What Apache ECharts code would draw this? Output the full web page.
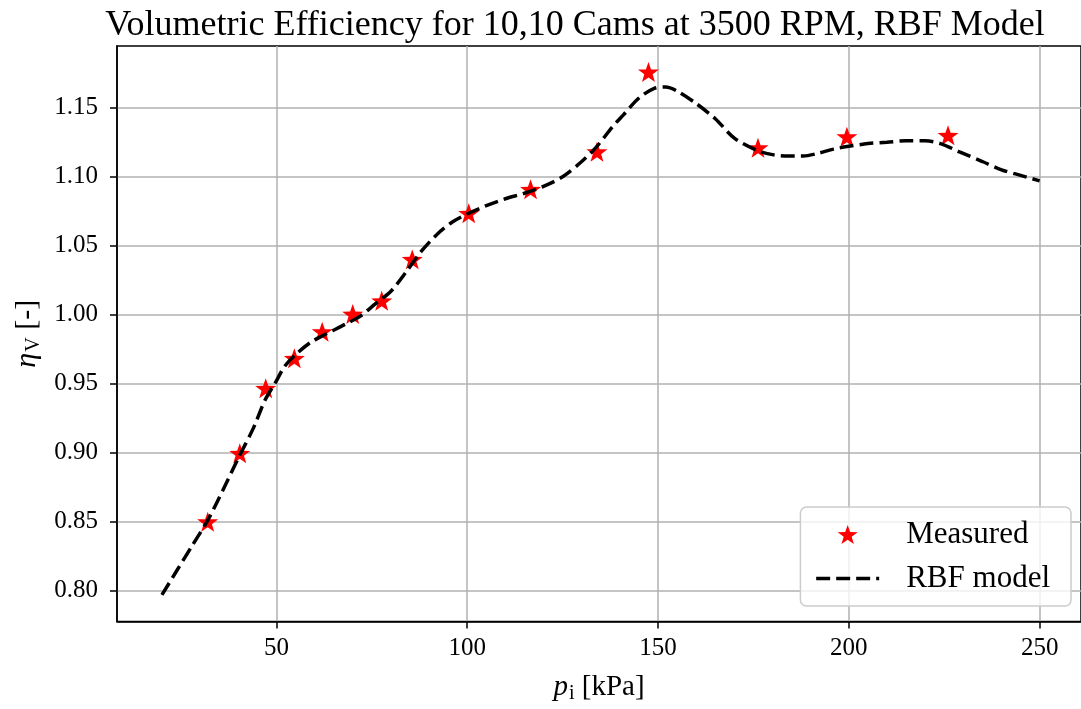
<!DOCTYPE html>
<html>
<head>
<meta charset="utf-8">
<script src="https://cdn.jsdelivr.net/npm/echarts@6/dist/echarts.min.js"></script>
<style>
html,body{margin:0;padding:0;background:#fff;}
#chart{width:1081px;height:709px;}
</style>
</head>
<body>
<div id="chart"></div>
<script>
// Measured points
const measuredX = [32.0, 40.4, 47.2, 54.7, 62.0, 70.0, 77.6, 85.6, 100.4, 116.6, 134.0, 147.5, 176.2, 199.5, 226.0];
const measuredY = [0.850, 0.8996, 0.9467, 0.9684, 0.9877, 1.0005, 1.0101, 1.0401, 1.0735, 1.0909, 1.1181, 1.1759, 1.1210, 1.1290, 1.1300];

// RBF model curve
const modelX = [20, 24, 28, 32, 36, 40, 44, 47, 50, 52, 55, 59, 63, 68, 72, 76, 80, 84, 88, 92, 96, 100, 105, 110, 115, 120, 125, 130, 134, 138, 141, 145, 149, 152, 155, 160, 165, 170, 176, 180, 184, 188, 192, 196, 200, 205, 210, 215, 220, 224, 229, 235, 240, 245, 250];
const modelY = [0.797, 0.815, 0.833, 0.851, 0.873, 0.896, 0.918, 0.938, 0.952, 0.962, 0.971, 0.980, 0.986, 0.993, 0.999, 1.008, 1.017, 1.031, 1.046, 1.058, 1.067, 1.073, 1.079, 1.084, 1.088, 1.093, 1.100, 1.111, 1.122, 1.136, 1.145, 1.157, 1.164, 1.165, 1.162, 1.153, 1.142, 1.128, 1.119, 1.116, 1.115, 1.115, 1.117, 1.120, 1.122, 1.124, 1.125, 1.126, 1.126, 1.124, 1.118, 1.111, 1.105, 1.101, 1.097];

// Tick labels
const xTicks = [50, 100, 150, 200, 250];
const yTicks = [0.80, 0.85, 0.90, 0.95, 1.00, 1.05, 1.10, 1.15];

const titleText = 'Volumetric Efficiency for 10,10 Cams at 3500 RPM, RBF Model';
const seriesNames = ['Measured', 'RBF model'];

const FONT = '"Liberation Serif", "Times New Roman", serif';
const STAR = 'path://M0,-10 L2.35,-3.24 L9.51,-3.09 L3.8,1.24 L5.88,8.09 L0,4 L-5.88,8.09 L-3.8,1.24 L-9.51,-3.09 L-2.35,-3.24 Z';
const DASH = [14, 6];

const chart = echarts.init(document.getElementById('chart'), null, {renderer: 'canvas'});

const option = {
  backgroundColor: '#ffffff',
  animation: false,
  textStyle: {fontFamily: FONT},
  title: {
    text: titleText,
    left: 570,
    textAlign: 'center',
    top: 3,
    textStyle: {fontFamily: FONT, fontSize: 36, fontWeight: 'normal', color: '#000'}
  },
  grid: {
    left: 117, top: 46, right: -3, bottom: 709 - 621.5,
    show: true, borderColor: '#000', borderWidth: 1.5, backgroundColor: 'transparent'
  },
  legend: {
    orient: 'vertical',
    right: 10,
    bottom: 103,
    data: [
      {name: seriesNames[0], icon: STAR, itemStyle: {color: '#ff0000', opacity: 1}},
      {name: seriesNames[1], itemStyle: {color: 'rgba(0,0,0,0)', opacity: 0, borderWidth: 0},
        lineStyle: {color: '#000', width: 3.5, type: DASH}}
    ],
    itemWidth: 63,
    itemHeight: 19,
    itemGap: 13,
    padding: [12, 21, 12, 14],
    backgroundColor: 'rgba(255,255,255,0.8)',
    borderColor: '#cccccc',
    borderWidth: 1.5,
    borderRadius: 6,
    textStyle: {fontFamily: FONT, fontSize: 31, color: '#000', lineHeight: 31, padding: [0, 0, 0, 22]}
  },
  xAxis: {
    type: 'value',
    min: 8.23,
    max: 260.84,
    name: '{it|p}{sub|i} [kPa]',
    nameLocation: 'middle',
    nameGap: 50,
    nameTextStyle: {
      fontFamily: FONT, fontSize: 29, color: '#000',
      rich: {
        it: {fontFamily: FONT, fontSize: 29, fontStyle: 'italic', color: '#000'},
        sub: {fontFamily: FONT, fontSize: 20, color: '#000', verticalAlign: 'bottom', padding: [12, 0, 0, 1]}
      }
    },
    axisLine: {show: true, onZero: false, lineStyle: {color: '#000', width: 1.5}},
    axisTick: {show: true, inside: false, length: 7, customValues: xTicks, lineStyle: {color: '#000', width: 1.5}},
    axisLabel: {show: true, customValues: xTicks, margin: 14, fontFamily: FONT, fontSize: 25, color: '#000',
      formatter: v => String(v)},
    splitLine: {show: true, lineStyle: {color: '#b0b0b0', width: 1.5}}
  },
  yAxis: {
    type: 'value',
    min: 0.7777,
    max: 1.1947,
    name: '{it|η}{sub|V} [-]',
    nameLocation: 'middle',
    nameRotate: 90,
    nameGap: 70,
    nameTextStyle: {
      fontFamily: FONT, fontSize: 30, color: '#000',
      rich: {
        it: {fontFamily: FONT, fontSize: 30, fontStyle: 'italic', color: '#000'},
        sub: {fontFamily: FONT, fontSize: 20, color: '#000', verticalAlign: 'bottom', padding: [12, 0, 0, 1]}
      }
    },
    axisLine: {show: true, onZero: false, lineStyle: {color: '#000', width: 1.5}},
    axisTick: {show: true, inside: false, length: 7, customValues: yTicks, lineStyle: {color: '#000', width: 1.5}},
    axisLabel: {show: true, customValues: yTicks, margin: 19, fontFamily: FONT, fontSize: 25, color: '#000',
      formatter: v => Number(v).toFixed(2)},
    splitLine: {show: true, lineStyle: {color: '#b0b0b0', width: 1.5}}
  },
  series: [
    {
      name: seriesNames[0],
      type: 'scatter',
      data: measuredX.map((x, i) => [x, measuredY[i]]),
      symbol: STAR,
      symbolSize: 21,
      symbolKeepAspect: true,
      itemStyle: {color: '#ff0000', opacity: 1},
      z: 2
    },
    {
      name: seriesNames[1],
      type: 'line',
      data: modelX.map((x, i) => [x, modelY[i]]),
      smooth: 0.3,
      showSymbol: false,
      symbol: 'none',
      lineStyle: {color: '#000', width: 3.5, type: DASH},
      itemStyle: {color: '#000'},
      z: 3
    }
  ]
};
chart.setOption(option);
</script>
</body>
</html>
